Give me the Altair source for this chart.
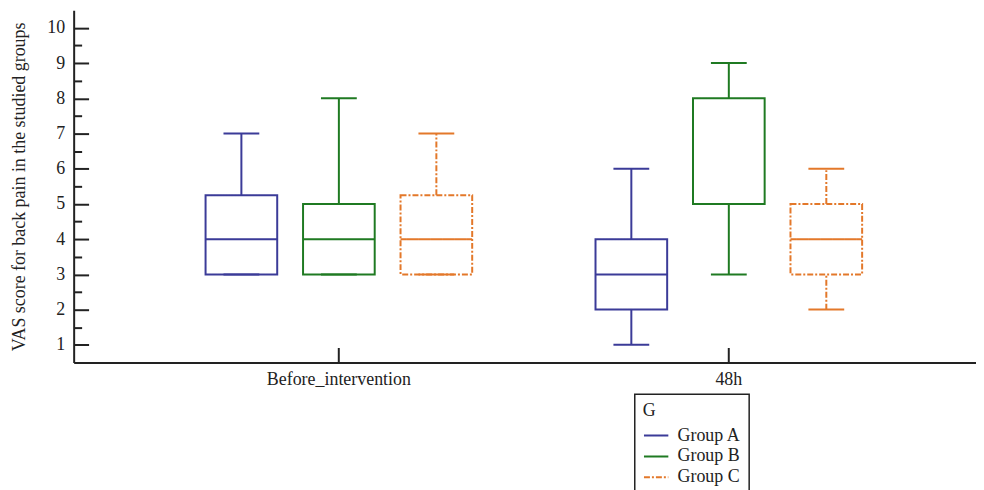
import altair as alt
import pandas as pd

# ---- data ----
times = ["Before_intervention"] * 3 + ["48h"] * 3
groups = ["Group A", "Group B", "Group C"] * 2
lows = [3, 3, 3, 1, 3, 2]
q1s = [3, 3, 3, 2, 5, 3]
medians = [4, 4, 4, 3, 5, 4]
q3s = [5.25, 5, 5.25, 4, 8, 5]
highs = [7, 8, 7, 6, 9, 6]

time_order = ["Before_intervention", "48h"]
group_names = ["Group A", "Group B", "Group C"]
group_colors = ["#3B3B98", "#1F7A22", "#E3782A"]
group_dashes = [[1, 0], [1, 0], [6, 2, 2, 2]]
y_major = [1, 2, 3, 4, 5, 6, 7, 8, 9, 10]
y_minor = [1.5, 2.5, 3.5, 4.5, 5.5, 6.5, 7.5, 8.5, 9.5]

df = pd.DataFrame({
    "time": times, "group": groups, "lo": lows, "q1": q1s,
    "med": medians, "q3": q3s, "hi": highs,
})

FONT = "Liberation Serif"
FS = 18

xscale = alt.Scale(domain=time_order, paddingInner=0.2, paddingOuter=0.257, align=0.545)
offscale = alt.Scale(domain=group_names, paddingInner=0.265, paddingOuter=0.2325)
yscale = alt.Scale(domain=[0.5, 10.5], nice=False, zero=False)

legend = alt.Legend(
    title="G", orient="none", legendX=564, legendY=386,
    strokeColor="#222", padding=8, symbolType="stroke",
    symbolStrokeWidth=2, symbolSize=600, clipHeight=17, rowPadding=2,
    titleFont=FONT, labelFont=FONT, titleFontSize=FS, labelFontSize=FS,
    titleFontWeight="normal", titleColor="#222", labelColor="#222",
    titlePadding=7, labelOffset=8,
)
stroke_enc = alt.Stroke("group:N", scale=alt.Scale(domain=group_names, range=group_colors), legend=legend)
dash_enc = alt.StrokeDash("group:N", scale=alt.Scale(domain=group_names, range=group_dashes), legend=legend)
xoff = alt.XOffset("group:N", scale=offscale)


def xenc(axis):
    return alt.X("time:N", scale=xscale, axis=axis, title=None)


main_x_axis = alt.Axis(
    title=None, tickSize=0, labelPadding=8, domainColor="#222", domainWidth=2,
    labelFont=FONT, labelFontSize=FS, labelColor="#222", labelAngle=0, orient="bottom",
)
tick_x_axis = alt.Axis(
    title=None, labels=False, domain=False, tickSize=15, tickWidth=2,
    tickColor="#222", offset=-15, orient="bottom",
)
main_y_axis = alt.Axis(
    values=y_major, title="VAS score for back pain in the studied groups",
    tickSize=0, labelPadding=9, domainColor="#222", domainWidth=2,
    labelFont=FONT, labelFontSize=FS, labelColor="#222", titleFont=FONT,
    titleFontSize=FS, titleFontWeight="normal", titleColor="#222",
    titlePadding=18, grid=False, orient="left",
)
tick_y_axis = alt.Axis(
    values=y_major, title=None, labels=False, domain=False, tickSize=15,
    tickWidth=2, tickColor="#222", offset=-15, grid=False, orient="left",
)
minor_y_axis = alt.Axis(
    values=y_minor, title=None, labels=False, domain=False, tickSize=8,
    tickWidth=2, tickColor="#222", offset=-8, grid=False, orient="left",
)

base = alt.Chart(df)

box = base.mark_bar(fill="white", strokeWidth=2).encode(
    x=xenc(main_x_axis), xOffset=xoff,
    y=alt.Y("q1:Q", scale=yscale, axis=main_y_axis), y2="q3:Q",
    stroke=stroke_enc, strokeDash=dash_enc,
)
upper = base.mark_rule(strokeWidth=2).encode(
    x=xenc(tick_x_axis), xOffset=xoff,
    y=alt.Y("q3:Q", scale=yscale, axis=tick_y_axis), y2="hi:Q",
    stroke=stroke_enc, strokeDash=dash_enc,
)
lower = base.mark_rule(strokeWidth=2).encode(
    x=xenc(None), xOffset=xoff,
    y=alt.Y("lo:Q", scale=yscale, axis=minor_y_axis), y2="q1:Q",
    stroke=stroke_enc, strokeDash=dash_enc,
)
cap_hi = base.mark_bar(width=36, fillOpacity=0, strokeWidth=2).encode(
    x=xenc(None), xOffset=xoff,
    y=alt.Y("hi:Q", scale=yscale, axis=None), y2="hi:Q",
    stroke=stroke_enc, strokeDash=dash_enc,
)
cap_lo = base.mark_bar(width=36, fillOpacity=0, strokeWidth=2).encode(
    x=xenc(None), xOffset=xoff,
    y=alt.Y("lo:Q", scale=yscale, axis=None), y2="lo:Q",
    stroke=stroke_enc, strokeDash=dash_enc,
)
median = base.mark_bar(fillOpacity=0, strokeWidth=2).encode(
    x=xenc(None), xOffset=xoff,
    y=alt.Y("med:Q", scale=yscale, axis=None), y2="med:Q",
    stroke=stroke_enc, strokeDash=dash_enc,
)

chart = alt.layer(box, upper, lower, cap_hi, cap_lo, median).resolve_axis(
    x="independent", y="independent"
).properties(
    width=907, height=354,
    padding={"top": 1, "left": 3, "right": 0, "bottom": 0},
    background="white",
).configure_view(stroke=None).configure_legend(strokeWidth=1.5)

chart.save("out.html", embed_options={"renderer": "svg", "actions": False})
